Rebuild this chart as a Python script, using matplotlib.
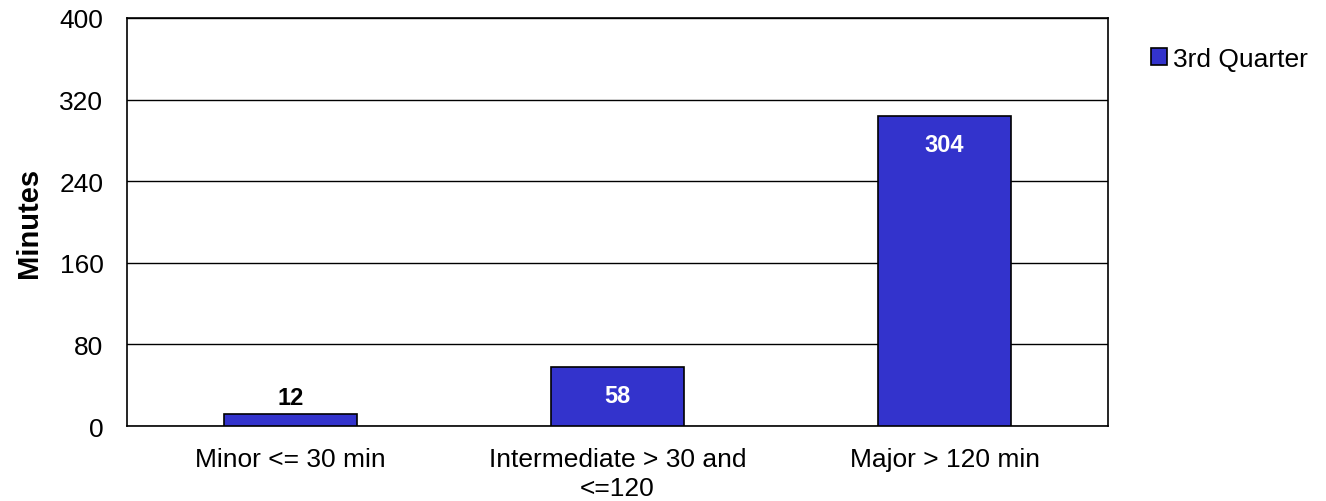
import matplotlib.pyplot as plt
import numpy as np

plt.rcParams['font.family'] = ['Liberation Sans', 'DejaVu Sans']

categories = ["Minor <= 30 min", "Intermediate > 30 and\n<=120", "Major > 120 min"]
minutes = [12, 58, 304]
series_name = "3rd Quarter"
yticks = [0, 80, 160, 240, 320, 400]

fig = plt.figure(figsize=(13.26, 5.02), dpi=100)
ax = fig.add_axes([0.0958, 0.1494, 0.7398, 0.8128])

x = np.arange(len(categories))
bars = ax.bar(x, minutes, 0.404, color="#3333CC", edgecolor="black",
              linewidth=1.2, label=series_name, zorder=3)

for bar, val in zip(bars, minutes):
    cx = bar.get_x() + bar.get_width() / 2
    if val < 30:
        ax.text(cx, val + 5, str(val), ha="center", va="bottom",
                fontsize=17, fontweight="bold", color="black")
    else:
        ax.text(cx, val - 17, str(val), ha="center", va="top",
                fontsize=17, fontweight="bold", color="white", zorder=4)

ax.set_xlim(-0.5, 2.5)
ax.set_ylim(0, 400)
ax.set_yticks(yticks)
ax.set_xticks(x)
ax.set_xticklabels(categories, fontsize=19, linespacing=1.25)
ax.tick_params(axis="y", labelsize=19, length=0, pad=17)
ax.tick_params(axis="x", length=0, pad=15)
ax.yaxis.grid(True, color="black", linewidth=1.0, zorder=0)
ax.set_axisbelow(True)
for s in ax.spines.values():
    s.set_linewidth(1.2)

ax.set_ylabel("Minutes", fontsize=21, fontweight="bold", labelpad=12)

fig.legend(handles=[bars], labels=[series_name], loc="upper left",
           bbox_to_anchor=(0.850, 0.952), frameon=False, fontsize=19,
           handlelength=0.6, handleheight=0.6, handletextpad=0.25)

fig.savefig("out.png", dpi=100)
